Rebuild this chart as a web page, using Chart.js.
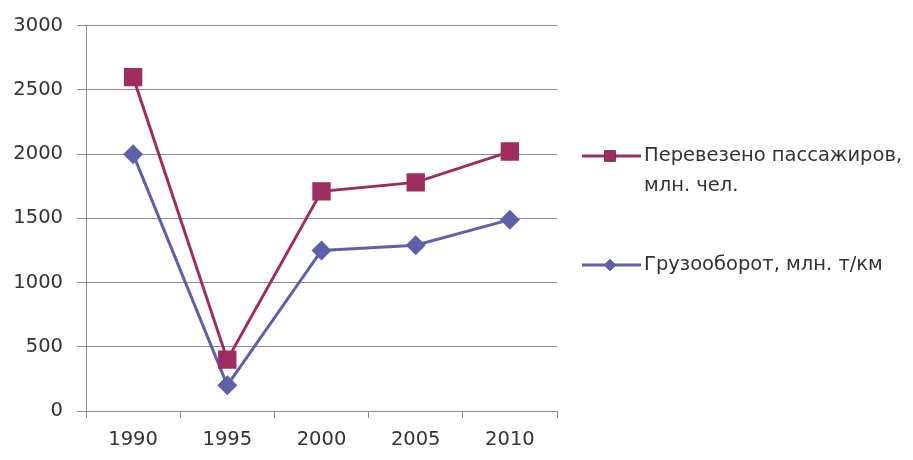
<!DOCTYPE html>
<html>
<head>
<meta charset="utf-8">
<script src="https://cdn.jsdelivr.net/npm/chart.js@4"></script>
<style>
  html, body { margin: 0; padding: 0; background: #fff; }
  #wrap { width: 913px; height: 460px; }
</style>
</head>
<body>
<div id="wrap"><canvas id="grafico" width="913" height="460"></canvas></div>
<script>
// dados
const anos = ["1990", "1995", "2000", "2005", "2010"];
const passageiros = [2600, 400, 1710, 1780, 2020];
const carga = [2000, 200, 1250, 1290, 1490];
const rotuloPass = ["Перевезено пассажиров,", "млн. чел."];
const rotuloCarga = ["Грузооборот, млн. т/км"];

const corVermelha = '#9e2d5f';
const corAzul = '#5f61a8';
const corGrade = '#8c8c8c';
const fonte = "'DejaVu Sans', sans-serif";

// legenda desenhada à direita, como no original
const legendaDireita = {
    id: 'legendaDireita',
    afterDraw(chart) {
        const ctx = chart.ctx;
        const itens = [
            { ds: chart.data.datasets[0], linhas: rotuloPass, y: 156 },
            { ds: chart.data.datasets[1], linhas: rotuloCarga, y: 265 }
        ];
        ctx.save();
        itens.forEach(it => {
            ctx.strokeStyle = it.ds.borderColor;
            ctx.lineWidth = 3;
            ctx.beginPath();
            ctx.moveTo(582, it.y);
            ctx.lineTo(641, it.y);
            ctx.stroke();
            Chart.helpers.drawPoint(ctx, {
                pointStyle: it.ds.pointStyle,
                radius: it.ds.pointStyle === 'rect' ? 8 : 6,
                borderWidth: 0
            }, 610, it.y);
            ctx.fillStyle = it.ds.pointBackgroundColor;
            ctx.fill();
            ctx.fillStyle = '#333';
            ctx.font = "19.5px " + fonte;
            ctx.textBaseline = 'middle';
            it.linhas.forEach((t, i) => ctx.fillText(t, 644, it.y + i * 30));
        });
        ctx.restore();
    }
};

new Chart(document.getElementById("grafico"), {
    type: "line",
    data: {
        labels: anos,
        datasets: [
            {
                label: rotuloPass.join(" "),
                data: passageiros,
                borderColor: corVermelha,
                backgroundColor: corVermelha,
                pointBackgroundColor: corVermelha,
                pointBorderColor: corVermelha,
                pointStyle: 'rect',
                pointRadius: 13,
                pointBorderWidth: 0,
                borderWidth: 3,
                tension: 0
            },
            {
                label: rotuloCarga[0],
                data: carga,
                borderColor: corAzul,
                backgroundColor: corAzul,
                pointBackgroundColor: corAzul,
                pointBorderColor: corAzul,
                pointStyle: 'rectRot',
                pointRadius: 10,
                pointBorderWidth: 0,
                borderWidth: 3,
                tension: 0
            }
        ]
    },
    options: {
        responsive: false,
        animation: false,
        layout: { padding: { top: 23, right: 356, bottom: 0, left: 6 } },
        plugins: {
            legend: { display: false },
            tooltip: { enabled: false }
        },
        scales: {
            x: {
                offset: true,
                afterFit: s => { s.height = 49; },
                grid: {
                    offset: true,
                    drawOnChartArea: false,
                    drawTicks: true,
                    tickLength: 7,
                    color: corGrade
                },
                border: { display: true, color: corGrade, width: 1 },
                ticks: {
                    color: '#333',
                    padding: 10,
                    font: { family: fonte, size: 19.5 }
                }
            },
            y: {
                min: 0,
                max: 3000,
                afterFit: s => { s.width = 80; },
                ticks: {
                    stepSize: 500,
                    color: '#333',
                    padding: 14,
                    font: { family: fonte, size: 19.5 },
                    callback: v => String(v)
                },
                grid: {
                    color: corGrade,
                    drawTicks: true,
                    tickLength: 9
                },
                border: { display: true, color: corGrade, width: 1 }
            }
        }
    },
    plugins: [legendaDireita]
});
</script>
</body>
</html>
